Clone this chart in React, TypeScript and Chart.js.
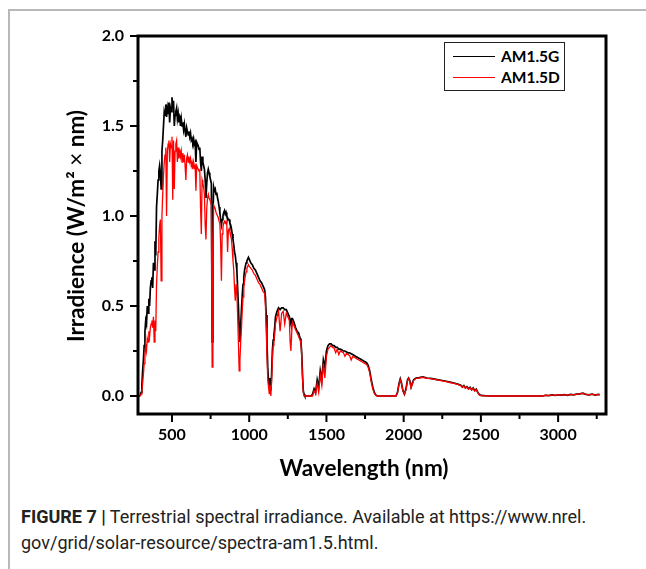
import React, { useEffect, useRef } from "react";
import { Chart, registerables } from "chart.js";

Chart.register(...registerables);

// ---- Data (wavelength in nm, irradiance in W/m²/nm) ----
const wl1 = [280, 290, 295, 300, 305, 310, 315, 320, 325, 330, 335, 340, 345, 350, 355, 360, 365, 370, 375, 380, 385, 390, 395, 400, 405, 410, 415, 420, 425, 430, 435, 440, 445, 450];
const g1 = [0, 0, 0.005, 0.02, 0.06, 0.14, 0.2, 0.28, 0.36, 0.42, 0.4, 0.5, 0.46, 0.54, 0.5, 0.6, 0.64, 0.66, 0.6, 0.74, 0.7, 0.86, 0.78, 1.05, 1.12, 1.2, 1.25, 1.28, 1.24, 1.15, 1.36, 1.42, 1.5, 1.58];
const d1 = [0, 0, 0.002, 0.01, 0.03, 0.07, 0.12, 0.18, 0.22, 0.28, 0.25, 0.32, 0.3, 0.36, 0.33, 0.38, 0.4, 0.42, 0.38, 0.44, 0.3, 0.42, 0.36, 0.62, 0.72, 0.8, 0.88, 0.95, 0.98, 0.64, 1.0, 1.12, 1.22, 1.3];

const wl2 = [455, 460, 465, 470, 475, 480, 485, 490, 495, 500, 505, 510, 515, 520, 525, 530, 535, 540, 545, 550, 555, 560, 565, 570, 575, 580, 585, 590, 595, 600, 605, 610, 615, 620, 625, 630, 635, 640, 645, 650, 655, 660, 665, 670, 675, 680, 685, 690, 695, 700];
const g2 = [1.56, 1.62, 1.55, 1.6, 1.57, 1.63, 1.52, 1.6, 1.58, 1.66, 1.6, 1.64, 1.5, 1.56, 1.58, 1.6, 1.54, 1.57, 1.52, 1.56, 1.5, 1.54, 1.5, 1.52, 1.48, 1.51, 1.47, 1.44, 1.49, 1.47, 1.45, 1.47, 1.44, 1.46, 1.42, 1.43, 1.41, 1.43, 1.4, 1.41, 1.3, 1.41, 1.4, 1.39, 1.37, 1.38, 1.3, 1.25, 1.33, 1.3];
const d2 = [1.34, 1.38, 1.0, 1.36, 1.4, 1.42, 1.3, 1.4, 1.38, 1.44, 1.09, 1.42, 1.15, 1.36, 1.4, 1.42, 1.3, 1.38, 1.32, 1.37, 1.33, 1.36, 1.3, 1.35, 1.3, 1.34, 1.28, 1.2, 1.32, 1.34, 1.3, 1.33, 1.3, 1.32, 1.28, 1.3, 1.26, 1.3, 1.27, 1.28, 1.14, 1.28, 1.27, 1.26, 1.25, 1.26, 1.05, 0.9, 1.2, 1.18];

const wl3 = [705, 710, 715, 720, 725, 730, 735, 740, 745, 750, 755, 760, 765, 770, 775, 780, 785, 790, 795, 800, 805, 810, 815, 820, 825, 830, 835, 840, 845, 850, 855, 860, 865, 870, 875, 880, 885, 890, 895, 900, 905, 910, 915, 920, 925, 930, 935, 940, 945, 950, 955, 960, 965, 970, 975, 980, 985, 990, 995, 1000];
const g3 = [1.28, 1.26, 1.2, 1.1, 1.18, 1.24, 1.26, 1.24, 1.22, 1.2, 1.18, 0.3, 1.0, 1.16, 1.14, 1.15, 1.12, 1.13, 1.1, 1.08, 1.05, 1.02, 0.98, 0.95, 0.98, 1.0, 1.02, 1.03, 1.01, 1.02, 1.0, 0.99, 0.98, 0.98, 0.96, 0.95, 0.93, 0.9, 0.87, 0.84, 0.8, 0.78, 0.74, 0.7, 0.6, 0.5, 0.38, 0.3, 0.4, 0.48, 0.56, 0.62, 0.66, 0.7, 0.72, 0.74, 0.75, 0.76, 0.77, 0.76];
const d3 = [1.16, 1.12, 0.95, 0.87, 1.04, 1.1, 1.12, 1.1, 1.09, 1.08, 1.06, 0.16, 0.85, 1.06, 1.05, 1.04, 1.02, 1.02, 1.0, 0.99, 0.97, 0.96, 0.85, 0.64, 0.9, 0.94, 0.96, 0.97, 0.96, 0.97, 0.95, 0.8, 0.92, 0.93, 0.91, 0.9, 0.87, 0.82, 0.75, 0.7, 0.6, 0.53, 0.62, 0.58, 0.45, 0.3, 0.14, 0.2, 0.3, 0.38, 0.48, 0.55, 0.6, 0.64, 0.67, 0.69, 0.71, 0.72, 0.73, 0.72];

const wl4 = [1010, 1020, 1030, 1040, 1050, 1060, 1070, 1080, 1090, 1100, 1105, 1110, 1115, 1120, 1125, 1130, 1135, 1140, 1145, 1150, 1155, 1160, 1165, 1170, 1180, 1190, 1200, 1210, 1220, 1230, 1240, 1250, 1260, 1265, 1270, 1275, 1280, 1290, 1300, 1310, 1320, 1330, 1335, 1340, 1345, 1350, 1355, 1360, 1380, 1400];
const g4 = [0.74, 0.73, 0.71, 0.7, 0.68, 0.66, 0.64, 0.63, 0.61, 0.59, 0.55, 0.45, 0.3, 0.16, 0.08, 0.04, 0.1, 0.03, 0.12, 0.25, 0.31, 0.34, 0.38, 0.44, 0.47, 0.49, 0.48, 0.49, 0.49, 0.48, 0.48, 0.46, 0.44, 0.42, 0.4, 0.43, 0.43, 0.41, 0.38, 0.36, 0.35, 0.32, 0.3, 0.24, 0.12, 0.03, 0.01, 0, 0, 0];
const d4 = [0.71, 0.7, 0.68, 0.67, 0.65, 0.63, 0.62, 0.6, 0.58, 0.57, 0.5, 0.38, 0.22, 0.1, 0.05, 0.01, 0.06, 0, 0.08, 0.2, 0.28, 0.3, 0.34, 0.4, 0.44, 0.47, 0.36, 0.46, 0.47, 0.4, 0.46, 0.44, 0.42, 0.3, 0.25, 0.35, 0.41, 0.39, 0.37, 0.35, 0.33, 0.31, 0.29, 0.22, 0.1, 0.02, 0, 0, 0, 0];

const wl5 = [1410, 1420, 1430, 1440, 1450, 1460, 1470, 1480, 1490, 1500, 1510, 1520, 1530, 1540, 1550, 1560, 1570, 1580, 1590, 1600, 1610, 1620, 1630, 1640, 1650, 1660, 1670, 1680, 1690, 1700, 1710, 1720, 1730, 1740, 1750, 1760, 1770, 1780, 1790, 1800, 1810, 1820, 1830, 1840];
const g5 = [0.01, 0.04, 0.02, 0.09, 0.05, 0.14, 0.09, 0.2, 0.16, 0.25, 0.28, 0.29, 0.29, 0.28, 0.28, 0.27, 0.27, 0.26, 0.26, 0.255, 0.25, 0.25, 0.245, 0.24, 0.24, 0.235, 0.23, 0.225, 0.22, 0.215, 0.21, 0.205, 0.2, 0.195, 0.19, 0.185, 0.17, 0.14, 0.09, 0.05, 0.02, 0.005, 0, 0];
const d5 = [0, 0.03, 0.01, 0.07, 0.02, 0.12, 0.06, 0.18, 0.1, 0.22, 0.26, 0.27, 0.28, 0.27, 0.265, 0.24, 0.26, 0.23, 0.25, 0.245, 0.24, 0.22, 0.235, 0.23, 0.225, 0.2, 0.22, 0.215, 0.21, 0.205, 0.2, 0.195, 0.19, 0.185, 0.18, 0.175, 0.16, 0.13, 0.08, 0.04, 0.015, 0.003, 0, 0];

const wl6 = [1900, 1950, 1960, 1970, 1978, 1985, 1995, 2005, 2015, 2025, 2032, 2040, 2048, 2056, 2065, 2080, 2100, 2125, 2150, 2175, 2200, 2225, 2250, 2275, 2300, 2325, 2350, 2370, 2380, 2390, 2400, 2410, 2420, 2430, 2440, 2450, 2460, 2470, 2480, 2490, 2500, 2550];
const g6 = [0, 0, 0.02, 0.07, 0.095, 0.075, 0.03, 0.01, 0.04, 0.09, 0.1, 0.085, 0.05, 0.07, 0.09, 0.1, 0.102, 0.106, 0.1, 0.098, 0.094, 0.09, 0.086, 0.082, 0.077, 0.072, 0.066, 0.06, 0.05, 0.058, 0.045, 0.052, 0.04, 0.048, 0.035, 0.045, 0.03, 0.038, 0.02, 0.008, 0.003, 0];
const d6 = [0, 0, 0.02, 0.065, 0.09, 0.07, 0.03, 0.01, 0.035, 0.085, 0.098, 0.08, 0.045, 0.065, 0.087, 0.098, 0.1, 0.104, 0.098, 0.096, 0.092, 0.088, 0.084, 0.08, 0.075, 0.07, 0.064, 0.058, 0.048, 0.056, 0.043, 0.05, 0.038, 0.046, 0.033, 0.043, 0.028, 0.036, 0.018, 0.006, 0.002, 0];

const wl7 = [2600, 2700, 2800, 2900, 2920, 2940, 2960, 2980, 3000, 3020, 3040, 3060, 3080, 3100, 3120, 3140, 3160, 3170, 3180, 3200, 3220, 3240, 3260, 3270];
const g7 = [0, 0, 0, 0, 0.004, 0.002, 0.006, 0.003, 0.007, 0.005, 0.008, 0.004, 0.009, 0.006, 0.01, 0.012, 0.016, 0.012, 0.009, 0.006, 0.01, 0.005, 0.009, 0.007];
const d7 = [0, 0, 0, 0, 0.004, 0.002, 0.006, 0.003, 0.007, 0.005, 0.008, 0.004, 0.009, 0.006, 0.01, 0.012, 0.015, 0.012, 0.009, 0.006, 0.01, 0.005, 0.009, 0.007];

const wavelength = [...wl1, ...wl2, ...wl3, ...wl4, ...wl5, ...wl6, ...wl7];
const am15g = [...g1, ...g2, ...g3, ...g4, ...g5, ...g6, ...g7];
const am15d = [...d1, ...d2, ...d3, ...d4, ...d5, ...d6, ...d7];

const seriesLabels = ["AM1.5G", "AM1.5D"];
const xMajorTicks = [500, 1000, 1500, 2000, 2500, 3000];
const xMinorTicks = [750, 1250, 1750, 2250, 2750, 3250];
const yMajorTicks = [0, 0.5, 1.0, 1.5, 2.0];
const yMinorTicks = [0.25, 0.75, 1.25, 1.75];

const FONT = "Lato, 'Open Sans', sans-serif";

const framePlugin = {
  id: "frameTicks",
  afterDraw(chart: any) {
    const { ctx, chartArea: a, scales } = chart;
    ctx.save();
    ctx.strokeStyle = "#000";
    ctx.lineWidth = 2;
    ctx.beginPath();
    xMajorTicks.forEach((v) => {
      const p = scales.x.getPixelForValue(v);
      ctx.moveTo(p, a.bottom);
      ctx.lineTo(p, a.bottom + 8);
    });
    xMinorTicks.forEach((v) => {
      const p = scales.x.getPixelForValue(v);
      ctx.moveTo(p, a.bottom);
      ctx.lineTo(p, a.bottom + 5);
    });
    yMajorTicks.forEach((v) => {
      const p = scales.y.getPixelForValue(v);
      ctx.moveTo(a.left, p);
      ctx.lineTo(a.left - 8, p);
    });
    yMinorTicks.forEach((v) => {
      const p = scales.y.getPixelForValue(v);
      ctx.moveTo(a.left, p);
      ctx.lineTo(a.left - 5, p);
    });
    ctx.stroke();
    ctx.lineWidth = 3;
    ctx.strokeRect(a.left, a.top, a.right - a.left, a.bottom - a.top);
    ctx.restore();
  },
};

export default function App() {
  const ref = useRef<HTMLCanvasElement>(null);

  useEffect(() => {
    if (!ref.current) return;
    const toPoints = (ys: number[]) => wavelength.map((x, i) => ({ x, y: ys[i] }));
    const chart = new Chart(ref.current, {
      type: "line",
      data: {
        datasets: [
          {
            label: seriesLabels[0],
            data: toPoints(am15g),
            borderColor: "#000000",
            borderWidth: 1.7,
            pointRadius: 0,
            tension: 0,
            order: 2,
          },
          {
            label: seriesLabels[1],
            data: toPoints(am15d),
            borderColor: "#ff0000",
            borderWidth: 1.3,
            pointRadius: 0,
            tension: 0,
            order: 1,
          },
        ],
      },
      options: {
        responsive: false,
        animation: false,
        devicePixelRatio: 1,
        layout: { padding: { top: 36, right: 40, left: 0, bottom: 0 } },
        plugins: { legend: { display: false }, tooltip: { enabled: false } },
        scales: {
          x: {
            type: "linear",
            min: 280,
            max: 3310,
            afterBuildTicks: (s: any) => {
              s.ticks = xMajorTicks.map((value) => ({ value }));
            },
            afterFit: (s: any) => {
              s.height = 76;
            },
            grid: { display: false, drawTicks: true, tickLength: 8 },
            border: { display: false },
            ticks: {
              padding: 3,
              color: "#000",
              maxRotation: 0,
              autoSkip: false,
              font: { family: FONT, size: 16, weight: "bold" },
              callback: (v: any) => String(v),
            },
          },
          y: {
            type: "linear",
            min: -0.1,
            max: 2.0,
            afterBuildTicks: (s: any) => {
              s.ticks = yMajorTicks.map((value) => ({ value }));
            },
            afterFit: (s: any) => {
              s.width = 138;
            },
            grid: { display: false, drawTicks: true, tickLength: 8 },
            border: { display: false },
            ticks: {
              padding: 6,
              color: "#000",
              autoSkip: false,
              font: { family: FONT, size: 16, weight: "bold" },
              callback: (v: any) => Number(v).toFixed(1),
            },
          },
        },
      },
      plugins: [framePlugin],
    } as any);
    return () => chart.destroy();
  }, []);

  return (
    <div
      style={{
        position: "absolute",
        left: 0,
        top: 0,
        width: 646,
        height: 569,
        background: "#fff",
        overflow: "hidden",
      }}
    >
      <div
        style={{
          position: "absolute",
          left: 8,
          top: 9,
          width: 700,
          height: 600,
          borderLeft: "2px solid #b8b8b8",
          borderTop: "2px solid #b8b8b8",
        }}
      />
      <canvas ref={ref} width={646} height={490} style={{ position: "absolute", left: 0, top: 0 }} />
      <div
        style={{
          position: "absolute",
          left: 76 - 160,
          top: 226 - 15,
          width: 320,
          height: 30,
          lineHeight: "30px",
          textAlign: "center",
          transform: "rotate(-90deg)",
          fontFamily: FONT,
          fontWeight: 700,
          fontSize: 22.5,
          color: "#000",
          whiteSpace: "nowrap",
        }}
      >
        Irradience (W/m² <span style={{ fontWeight: 400 }}>×</span> nm)
      </div>
      <div
        style={{
          position: "absolute",
          left: 364 - 150,
          top: 468 - 15,
          width: 300,
          height: 30,
          lineHeight: "30px",
          textAlign: "center",
          fontFamily: FONT,
          fontWeight: 700,
          fontSize: 22.5,
          color: "#000",
          whiteSpace: "nowrap",
        }}
      >
        Wavelength (nm)
      </div>
      <div
        style={{
          position: "absolute",
          left: 444,
          top: 42,
          width: 119,
          height: 47,
          border: "1.5px solid #222",
          background: "#fff",
          fontFamily: FONT,
          fontWeight: 700,
          fontSize: 15.5,
          color: "#000",
        }}
      >
        {seriesLabels.map((lab, i) => (
          <div key={lab} style={{ position: "absolute", left: 0, top: 3 + i * 21, height: 20, width: 119 }}>
            <div
              style={{
                position: "absolute",
                left: 8,
                top: 10,
                width: 42,
                height: 0,
                borderTop: `1.5px solid ${i === 0 ? "#000" : "#ff0000"}`,
              }}
            />
            <div style={{ position: "absolute", left: 56, top: 0, lineHeight: "20px" }}>{lab}</div>
          </div>
        ))}
      </div>
      <div
        style={{
          position: "absolute",
          left: 21,
          top: 504,
          width: 620,
          fontFamily: "Roboto, sans-serif",
          fontSize: 18,
          lineHeight: "26px",
          color: "#222",
        }}
      >
        <b>FIGURE 7 |</b> Terrestrial spectral irradiance. Available at https://www.nrel.
        <br />
        gov/grid/solar-resource/spectra-am1.5.html.
      </div>
    </div>
  );
}
